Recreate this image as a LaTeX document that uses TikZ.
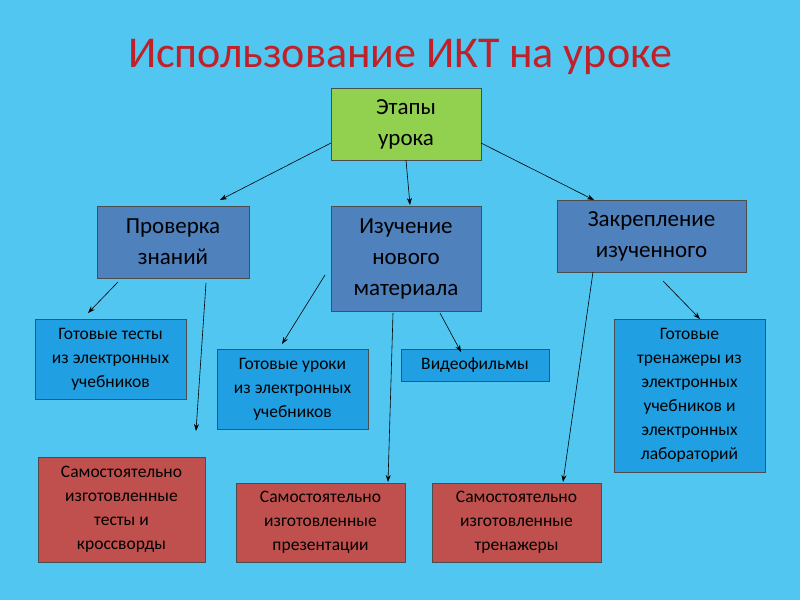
\documentclass[tikz,border=0pt]{standalone}
\usepackage{fontspec}
\setmainfont{Carlito}
\usetikzlibrary{arrows.meta}
\definecolor{bg}{RGB}{80,198,240}
\definecolor{ttl}{RGB}{192,32,40}
\definecolor{grn}{RGB}{146,208,80}
\definecolor{dbl}{RGB}{79,129,189}
\definecolor{lbl}{RGB}{32,160,226}
\definecolor{rd}{RGB}{192,80,77}
\tikzset{
 bx/.style={draw=black!70,line width=0.6pt,align=center,inner sep=0pt,font=\fontsize{17.5}{24}\selectfont},
 big/.style={font=\fontsize{23}{31}\selectfont},
 ar/.style={-{Stealth[length=7pt,width=5pt]},line width=0.6pt}
}
\newcommand{\bxat}[7]{\node[bx,#6,fill=#5,minimum width=#3-#1,minimum height=#4-#2] (#7) at ({(#1+#3)/2},{(#2+#4)/2})}
\begin{document}
\begin{tikzpicture}[x=1pt,y=-1pt]
\fill[bg] (0,0) rectangle (800,600);
\useasboundingbox (0,0) rectangle (800,600);
\node[text=ttl,font=\fontsize{44}{48}\selectfont] (t) at (400,57) {Использование ИКТ на уроке};
\bxat{331}{88}{481}{160}{grn}{big}{e} {Этапы\\урока};
\bxat{97}{206}{249}{278}{dbl}{big}{p} {Проверка\\знаний};
\bxat{331}{206}{481}{311}{dbl}{big}{i} {Изучение\\нового\\материала};
\bxat{557}{200}{746}{272}{dbl}{big}{z} {Закрепление\\изученного};
\bxat{35}{319}{186}{399}{lbl}{}{a} {Готовые тесты\\из электронных\\учебников};
\bxat{217}{349}{368}{429}{lbl}{}{b} {Готовые уроки\\из электронных\\учебников};
\bxat{401}{349}{549}{381}{lbl}{}{c} {Видеофильмы};
\bxat{614}{319}{765}{472}{lbl}{}{d} {Готовые\\тренажеры из\\электронных\\учебников и\\электронных\\лабораторий};
\bxat{38}{457}{205}{562}{rd}{}{r1} {Самостоятельно\\изготовленные\\тесты и\\кроссворды};
\bxat{236}{483}{405}{562}{rd}{}{r2} {Самостоятельно\\изготовленные\\презентации};
\bxat{432}{483}{601}{562}{rd}{}{r3} {Самостоятельно\\изготовленные\\тренажеры};
\coordinate (s1) at (331,143); \coordinate (t1) at (220,200);
\coordinate (s2) at (406,160); \coordinate (t2) at (410,205);
\coordinate (s3) at (481,143); \coordinate (t3) at (594,200);
\coordinate (s4) at (118,282); \coordinate (t4) at (88,313);
\coordinate (s5) at (206,283); \coordinate (t5) at (196,431);
\coordinate (s6) at (325,275); \coordinate (t6) at (282,344);
\coordinate (s7) at (440,313); \coordinate (t7) at (461,352);
\coordinate (s8) at (393,313); \coordinate (t8) at (388,482);
\coordinate (s9) at (663,281); \coordinate (t9) at (700,319);
\coordinate (s10) at (593,272); \coordinate (t10) at (563,482);
\foreach \k in {1,...,10} \draw[ar] (s\k) -- (t\k);
\end{tikzpicture}
\end{document}
